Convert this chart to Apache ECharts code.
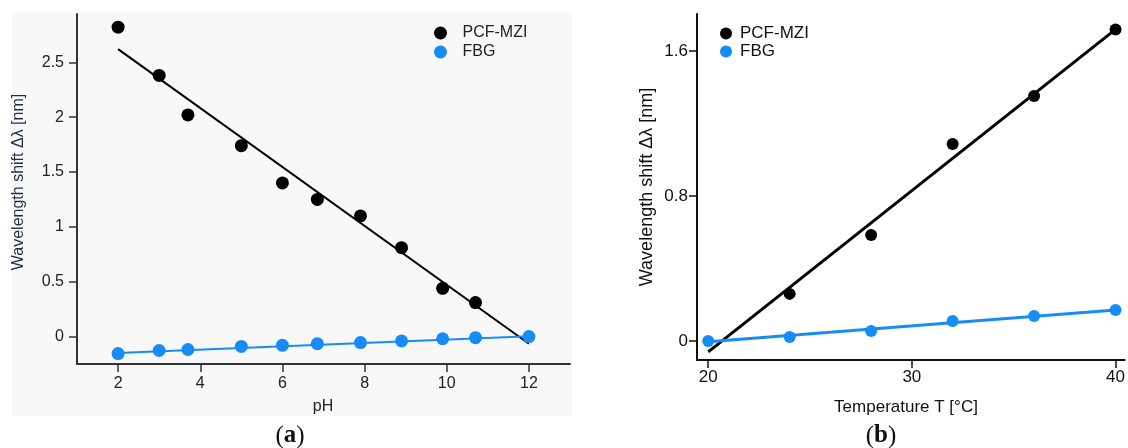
<!DOCTYPE html>
<html>
<head>
<meta charset="utf-8">
<script src="https://cdn.jsdelivr.net/npm/echarts@6/dist/echarts.min.js"></script>
<style>
  html, body { margin: 0; padding: 0; background: #fff; }
  #chart { width: 1128px; height: 448px; }
</style>
</head>
<body>
<div id="chart"></div>
<script>
// (a) wavelength shift versus pH
const phValues = [2, 3, 3.7, 5, 6, 6.85, 7.9, 8.9, 9.9, 10.7];
const mziPhShift = [2.82, 2.38, 2.02, 1.74, 1.40, 1.25, 1.10, 0.81, 0.44, 0.31];
const fbgPhValues = [2, 3, 3.7, 5, 6, 6.85, 7.9, 8.9, 9.9, 10.7, 12];
const fbgPhShift = [-0.155, -0.127, -0.118, -0.09, -0.08, -0.065, -0.055, -0.04, -0.02, -0.01, 0];
const mziPhFitX = [2, 12];
const mziPhFitY = [2.62, -0.065];
const fbgPhFitX = [2, 12];
const fbgPhFitY = [-0.15, 0.003];
const phTicks = [2, 4, 6, 8, 10, 12];
const phShiftTicks = [0, 0.5, 1, 1.5, 2, 2.5];

// (b) wavelength shift versus temperature
const tempValues = [24, 28, 32, 36, 40];
const mziTempShift = [0.26, 0.585, 1.087, 1.352, 1.72];
const fbgTempValues = [20, 24, 28, 32, 36, 40];
const fbgTempShift = [0, 0.022, 0.055, 0.11, 0.138, 0.171];
const mziTempFitX = [20, 40];
const mziTempFitY = [-0.06, 1.72];
const fbgTempFitX = [20, 40];
const fbgTempFitY = [-0.004, 0.171];
const tempTicks = [20, 30, 40];
const tempShiftTicks = [0, 0.8, 1.6];

const seriesNames = ['PCF-MZI', 'FBG'];
const yTitle = 'Wavelength shift Δλ [nm]';

const pairs = (xs, ys) => xs.map((x, i) => [x, ys[i]]);

const BLUE = '#178cf7';
const FONT = '"Liberation Sans", Arial, sans-serif';
const SERIF = '"Liberation Serif", serif';

function valueAxis(gridIndex, min, max, ticks, opts) {
  return {
    type: 'value',
    gridIndex,
    min, max,
    splitLine: { show: false },
    axisLine: { show: true, onZero: false, lineStyle: { color: opts.color, width: 2 } },
    axisTick: { show: true, inside: false, length: opts.tickLen, customValues: ticks,
                lineStyle: { color: opts.color, width: 1.5 } },
    axisLabel: { customValues: ticks, margin: opts.margin, color: opts.labelColor,
                 fontSize: opts.fontSize, fontFamily: FONT }
  };
}

function caption(letter, x) {
  return {
    type: 'text', silent: true, x, y: 436,
    style: {
      text: '{p|(}{b|' + letter + '}{p|)}', align: 'center', verticalAlign: 'middle',
      rich: {
        p: { fontSize: 25, fontFamily: SERIF, fill: '#111' },
        b: { fontSize: 25, fontWeight: 'bold', fontFamily: SERIF, fill: '#111' }
      }
    }
  };
}

const chart = echarts.init(document.getElementById('chart'), null, { renderer: 'canvas' });

chart.setOption({
  animation: false,
  backgroundColor: '#ffffff',
  grid: [
    { left: 77, top: 14, width: 493, height: 350 },
    { left: 697, top: 14, width: 428, height: 346 }
  ],
  xAxis: [
    valueAxis(0, 1, 13, phTicks, { color: '#333', tickLen: 8, margin: 12, labelColor: '#222', fontSize: 16 }),
    valueAxis(1, 19.45, 40.45, tempTicks, { color: '#111', tickLen: 8, margin: 9, labelColor: '#111', fontSize: 17 })
  ],
  yAxis: [
    valueAxis(0, -0.25, 2.94, phShiftTicks, { color: '#333', tickLen: 8, margin: 13, labelColor: '#222', fontSize: 16 }),
    valueAxis(1, -0.105, 1.805, tempShiftTicks, { color: '#111', tickLen: 8, margin: 9, labelColor: '#111', fontSize: 17 })
  ],
  legend: [
    {
      data: seriesNames, orient: 'vertical', left: 434, top: 25, padding: 0,
      icon: 'circle', itemWidth: 34, itemHeight: 13, itemGap: 3,
      textStyle: { fontSize: 16, fontFamily: FONT, color: '#222', lineHeight: 16 },
      selectedMode: false
    },
    {
      data: seriesNames, orient: 'vertical', left: 720, top: 25, padding: 0,
      icon: 'circle', itemWidth: 18, itemHeight: 12, itemGap: 1,
      textStyle: { fontSize: 17, fontFamily: FONT, color: '#111', lineHeight: 16 },
      selectedMode: false
    }
  ],
  graphic: [
    { type: 'rect', z: -10, silent: true,
      shape: { x: 12, y: 13, width: 560, height: 403 },
      style: { fill: '#f8f8f8' } },
    { type: 'text', silent: true, rotation: Math.PI / 2, x: 19, y: 182,
      style: { text: yTitle, fontSize: 16, fontFamily: FONT, fill: '#1f2d45',
               align: 'center', verticalAlign: 'middle' } },
    { type: 'text', silent: true, rotation: Math.PI / 2, x: 647, y: 187,
      style: { text: yTitle, fontSize: 18, fontFamily: FONT, fill: '#111',
               align: 'center', verticalAlign: 'middle' } },
    { type: 'text', silent: true, x: 323, y: 407,
      style: { text: 'pH', fontSize: 16, fontFamily: FONT, fill: '#222',
               align: 'center', verticalAlign: 'middle' } },
    { type: 'text', silent: true, x: 906, y: 407,
      style: { text: 'Temperature T [°C]', fontSize: 17, fontFamily: FONT, fill: '#111',
               align: 'center', verticalAlign: 'middle' } },
    caption('a', 290),
    caption('b', 881)
  ],
  series: [
    // panel (a)
    { name: 'PCF-MZI fit (pH)', type: 'line', xAxisIndex: 0, yAxisIndex: 0,
      data: pairs(mziPhFitX, mziPhFitY), showSymbol: false, z: 2,
      lineStyle: { color: '#000', width: 2 } },
    { name: 'PCF-MZI', type: 'scatter', xAxisIndex: 0, yAxisIndex: 0,
      data: pairs(phValues, mziPhShift), symbolSize: 13, z: 3,
      itemStyle: { color: '#000', opacity: 1 } },
    { name: 'FBG fit (pH)', type: 'line', xAxisIndex: 0, yAxisIndex: 0,
      data: pairs(fbgPhFitX, fbgPhFitY), showSymbol: false, z: 4,
      lineStyle: { color: BLUE, width: 2 } },
    { name: 'FBG', type: 'scatter', xAxisIndex: 0, yAxisIndex: 0,
      data: pairs(fbgPhValues, fbgPhShift), symbolSize: 13, z: 5,
      itemStyle: { color: BLUE, opacity: 1 } },
    // panel (b)
    { name: 'PCF-MZI fit (T)', type: 'line', xAxisIndex: 1, yAxisIndex: 1,
      data: pairs(mziTempFitX, mziTempFitY), showSymbol: false, z: 2,
      lineStyle: { color: '#000', width: 3 } },
    { name: 'PCF-MZI', type: 'scatter', xAxisIndex: 1, yAxisIndex: 1,
      data: pairs(tempValues, mziTempShift), symbolSize: 12, z: 3,
      itemStyle: { color: '#000', opacity: 1 } },
    { name: 'FBG fit (T)', type: 'line', xAxisIndex: 1, yAxisIndex: 1,
      data: pairs(fbgTempFitX, fbgTempFitY), showSymbol: false, z: 4,
      lineStyle: { color: BLUE, width: 3 } },
    { name: 'FBG', type: 'scatter', xAxisIndex: 1, yAxisIndex: 1,
      data: pairs(fbgTempValues, fbgTempShift), symbolSize: 12, z: 5,
      itemStyle: { color: BLUE, opacity: 1 } }
  ]
});
</script>
</body>
</html>
